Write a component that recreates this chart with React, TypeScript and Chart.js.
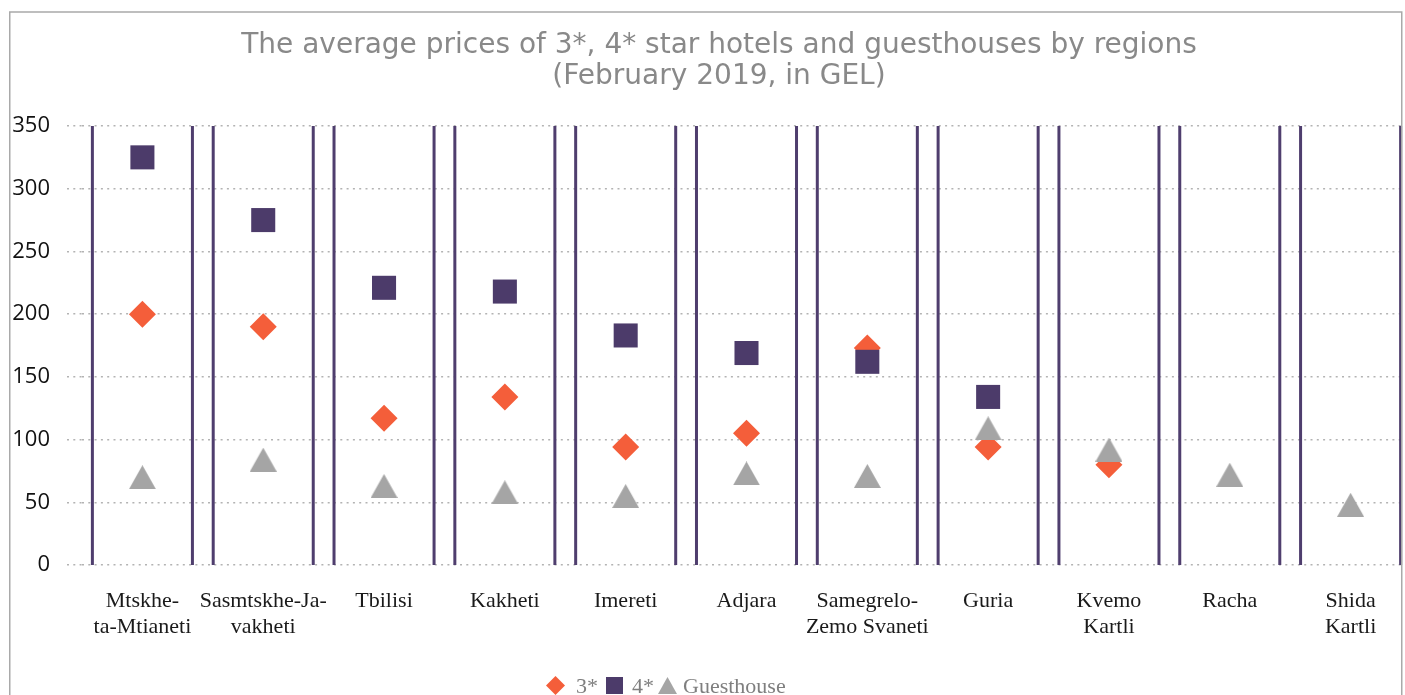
import React, { useEffect, useRef } from "react";
import { Chart, registerables } from "chart.js";

Chart.register(...registerables);

// ---- data ----
const categories: (string | string[])[] = [
  ["Mtskhe-", "ta-Mtianeti"],
  ["Sasmtskhe-Ja-", "vakheti"],
  "Tbilisi",
  "Kakheti",
  "Imereti",
  "Adjara",
  ["Samegrelo-", "Zemo Svaneti"],
  "Guria",
  ["Kvemo", "Kartli"],
  "Racha",
  ["Shida", "Kartli"],
];
const threeStar: (number | null)[] = [200, 190, 117, 134, 94, 105, 173, 94, 80, null, null];
const fourStar: (number | null)[] = [325, 275, 221, 218, 183, 169, 162, 134, null, null, null];
const guesthouse: (number | null)[] = [70, 84, 63, 58, 55, 73, 71, 109, 92, 72, 48];
const seriesNames = ["3*", "4*", "Guesthouse"];
const yMin = 0;
const yMax = 350;
const yStep = 50;
const titleLines = [
  "The average prices of 3*, 4* star hotels and guesthouses by regions",
  "(February 2019, in GEL)",
];

// ---- styles ----
const ORANGE = "#f45e3a";
const PURPLE = "#4c3b6a";
const GREY = "#a5a5a5";
const LINE_PURPLE = "#4f3e6e";

function makeTriangle(w: number, h: number, color: string): HTMLCanvasElement {
  const c = document.createElement("canvas");
  c.width = Math.ceil(w);
  c.height = Math.ceil(h);
  const g = c.getContext("2d")!;
  g.fillStyle = color;
  g.beginPath();
  g.moveTo(c.width / 2, 0);
  g.lineTo(c.width, c.height);
  g.lineTo(0, c.height);
  g.closePath();
  g.fill();
  return c;
}

const regionLinesPlugin = {
  id: "regionLines",
  beforeDatasetsDraw(chart: any) {
    const xs = chart.scales.x;
    const area = chart.chartArea;
    const n = chart.data.labels.length;
    const band = (area.right - area.left) / n;
    const ctx = chart.ctx;
    ctx.save();
    ctx.strokeStyle = LINE_PURPLE;
    ctx.lineWidth = 3;
    for (let i = 0; i < n; i++) {
      const cx = xs.getPixelForValue(i);
      for (const dx of [-0.414 * band, 0.414 * band]) {
        ctx.beginPath();
        ctx.moveTo(cx + dx, area.top);
        ctx.lineTo(cx + dx, area.bottom);
        ctx.stroke();
      }
    }
    ctx.restore();
  },
};

const decorPlugin = {
  id: "decor",
  afterDraw(chart: any) {
    const ctx = chart.ctx;
    ctx.save();
    // clear outside the frame on the right
    ctx.fillStyle = "#ffffff";
    ctx.fillRect(1403, 0, 40, 700);
    // frame
    ctx.strokeStyle = "#a9a9a9";
    ctx.lineWidth = 1.5;
    ctx.beginPath();
    ctx.moveTo(9.75, 720);
    ctx.lineTo(9.75, 12);
    ctx.lineTo(1401.75, 12);
    ctx.lineTo(1401.75, 720);
    ctx.stroke();
    // title
    ctx.fillStyle = "#898989";
    ctx.font = "28px 'DejaVu Sans'";
    ctx.textAlign = "center";
    ctx.textBaseline = "alphabetic";
    ctx.fillText(titleLines[0], 719, 53);
    ctx.fillText(titleLines[1], 719, 84);
    // legend
    const by = 693;
    const cy = 685.5;
    ctx.font = "22px 'Liberation Serif'";
    ctx.textAlign = "left";
    ctx.fillStyle = ORANGE;
    ctx.beginPath();
    ctx.moveTo(546, cy);
    ctx.lineTo(555.5, cy - 9.5);
    ctx.lineTo(565, cy);
    ctx.lineTo(555.5, cy + 9.5);
    ctx.closePath();
    ctx.fill();
    ctx.fillStyle = "#7f7f7f";
    ctx.fillText(seriesNames[0], 576, by);
    ctx.fillStyle = PURPLE;
    ctx.fillRect(606, 677, 17, 17);
    ctx.fillStyle = "#7f7f7f";
    ctx.fillText(seriesNames[1], 632, by);
    ctx.fillStyle = GREY;
    ctx.beginPath();
    ctx.moveTo(667.5, 677);
    ctx.lineTo(677, 694);
    ctx.lineTo(658, 694);
    ctx.closePath();
    ctx.fill();
    ctx.fillStyle = "#7f7f7f";
    ctx.fillText(seriesNames[2], 683, by);
    ctx.restore();
  },
};

export default function App() {
  const ref = useRef<HTMLCanvasElement | null>(null);

  useEffect(() => {
    if (!ref.current) return;
    const tri = makeTriangle(27, 23.5, GREY);
    const gridColor = "#b3b3b3";
    const chart = new Chart(ref.current, {
      type: "line",
      data: {
        labels: categories as any,
        datasets: [
          {
            label: seriesNames[0],
            data: threeStar,
            showLine: false,
            pointStyle: "rectRot",
            pointRadius: 13.5,
            pointHoverRadius: 13.5,
            pointBorderWidth: 0,
            pointBackgroundColor: ORANGE,
            borderColor: ORANGE,
            backgroundColor: ORANGE,
            order: 3,
          },
          {
            label: seriesNames[1],
            data: fourStar,
            showLine: false,
            pointStyle: "rect",
            pointRadius: 17,
            pointHoverRadius: 17,
            pointBorderWidth: 0,
            pointBackgroundColor: PURPLE,
            borderColor: PURPLE,
            backgroundColor: PURPLE,
            order: 2,
          },
          {
            label: seriesNames[2],
            data: guesthouse,
            showLine: false,
            pointStyle: tri as any,
            pointRadius: 14,
            pointHoverRadius: 14,
            pointBorderWidth: 0,
            pointBackgroundColor: GREY,
            borderColor: GREY,
            backgroundColor: GREY,
            order: 1,
          },
        ],
      },
      options: {
        animation: false,
        responsive: false,
        devicePixelRatio: 1,
        layout: { autoPadding: false, padding: { top: 126, left: 0, right: 0, bottom: 0 } },
        plugins: {
          legend: { display: false },
          title: { display: false },
          tooltip: { enabled: false },
        },
        scales: {
          x: {
            type: "category",
            offset: true,
            grid: { display: false, drawTicks: false },
            border: { display: false },
            ticks: {
              autoSkip: false,
              maxRotation: 0,
              minRotation: 0,
              padding: 24,
              color: "#1a1a1a",
              font: { family: "'Liberation Serif'", size: 22, lineHeight: 1.15 },
            },
            afterFit: (s: any) => {
              s.height = 130;
              s.paddingLeft = 0;
              s.paddingRight = 0;
            },
          },
          y: {
            min: yMin,
            max: yMax,
            ticks: {
              stepSize: yStep,
              padding: 17,
              color: "#111111",
              font: { family: "'Open Sans'", size: 22 },
            },
            grid: {
              color: gridColor,
              lineWidth: 1.5,
              drawTicks: true,
              tickLength: 15,
              tickColor: gridColor,
              tickWidth: 1.5,
              tickBorderDash: [2, 4.3],
            } as any,
            border: { display: false, dash: [2, 4.3] },
            afterFit: (s: any) => {
              s.width = 82;
            },
          },
        },
      },
      plugins: [regionLinesPlugin, decorPlugin],
    });
    return () => chart.destroy();
  }, []);

  return (
    <div
      style={{
        position: "fixed",
        left: 0,
        top: 0,
        width: 1405,
        height: 695,
        overflow: "hidden",
        background: "#ffffff",
      }}
    >
      <canvas ref={ref} width={1411} height={695} style={{ display: "block" }} />
    </div>
  );
}
